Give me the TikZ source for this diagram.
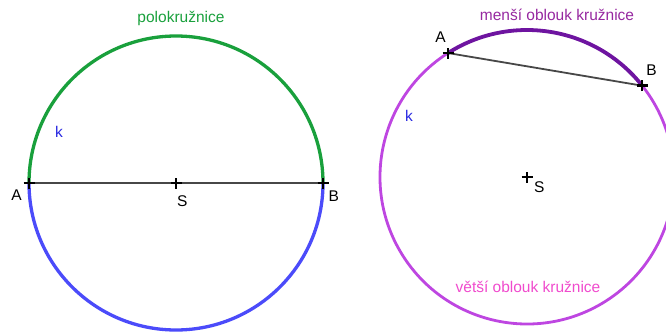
\documentclass[tikz,border=0pt]{standalone}
\usepackage{fontspec}
\setmainfont{Liberation Sans}
\usetikzlibrary{positioning}
\definecolor{zelena}{RGB}{25,160,60}
\definecolor{modra}{RGB}{75,75,250}
\definecolor{textmodra}{RGB}{40,40,225}
\definecolor{tmfialova}{RGB}{110,20,160}
\definecolor{fialova}{RGB}{190,70,225}
\definecolor{mensitext}{RGB}{150,40,160}
\definecolor{vetsitext}{RGB}{240,75,205}
\tikzset{
  obl/.style={line width=3.3pt},
  usecka/.style={draw=black!72, line width=1.8pt},
  lbl/.style={inner sep=0pt, font=\fontsize{15.5}{18}\selectfont},
  krizek/.pic={\draw[line width=2.4pt] (-5.5,0) -- (5.5,0) (0,-5.5) -- (0,5.5);}
}

\begin{document}
\begin{tikzpicture}[x=1pt, y=1pt]
  \useasboundingbox (0,0) rectangle (666,-332);
  % leva kruznice
  \coordinate (S1) at (176,-183);
  \coordinate (A1) at ([shift={(180:147)}]S1);
  \coordinate (B1) at ([shift={(0:147)}]S1);
  \draw[obl, zelena] (A1) arc[start angle=180, end angle=0, radius=147];
  \draw[obl, modra] (A1) arc[start angle=180, end angle=360, radius=147];
  \draw[usecka] (A1) -- (B1);
  \pic at (A1) {krizek};
  \pic at (B1) {krizek};
  \pic at (S1) {krizek};
  \node[lbl, below left=7pt and 7pt of A1] (lA1) {A};
  \node[lbl, below right=7.5pt and 5.5pt of B1] (lB1) {B};
  \node[lbl, below right=12.5pt and 1pt of S1] (lS1) {S};
  \node[lbl, textmodra] (k1) at (59,-132) {k};
  \node[lbl, zelena] (polo) at (181,-18) {polokružnice};
  % prava kruznice
  \coordinate (S2) at (527,-177);
  \coordinate (A2) at ([shift={(122.5:147)}]S2);
  \coordinate (B2) at ([shift={(38.4:147)}]S2);
  \draw[line width=2.8pt, fialova] (A2) arc[start angle=122.5, end angle=398.4, radius=147];
  \draw[line width=3.8pt, tmfialova] (B2) arc[start angle=38.4, end angle=122.5, radius=147];
  \draw[usecka] (A2) -- (B2);
  \pic at (A2) {krizek};
  \pic at (B2) {krizek};
  \pic at (S2) {krizek};
  \node[lbl, above left=10.5pt and 2pt of A2] (lA2) {A};
  \node[lbl, above right=10pt and 4pt of B2] (lB2) {B};
  \node[lbl, below right=4.5pt and 7pt of S2] (lS2) {S};
  \node[lbl, textmodra] (k2) at (409,-116) {k};
  \node[lbl, mensitext] (mensi) at (557,-15) {menší oblouk kružnice};
  \node[lbl, vetsitext] (vetsi) at (528,-287) {větší oblouk kružnice};
\end{tikzpicture}
\end{document}
